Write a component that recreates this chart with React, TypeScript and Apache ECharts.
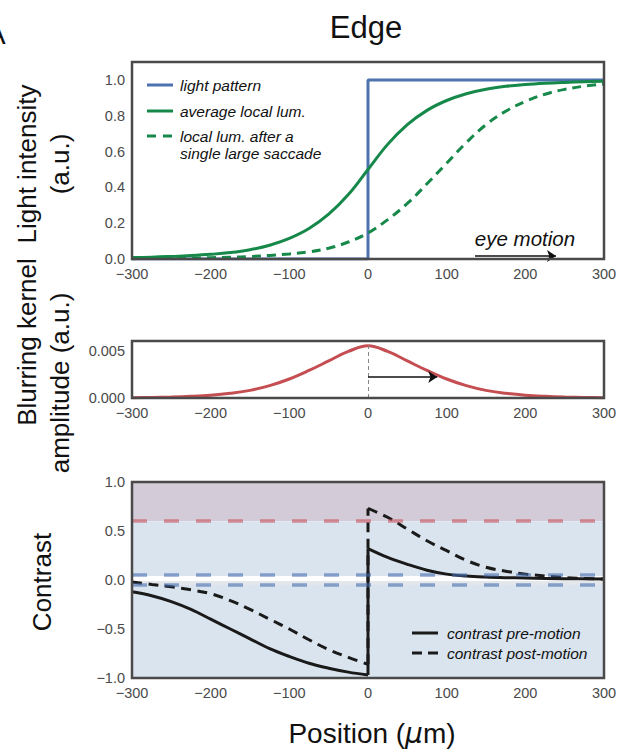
import { useEffect, useRef } from "react";
import * as echarts from "echarts";

// ---------- data ----------
const lumX = [-300, -275, -250, -225, -200, -175, -150, -125, -100, -75, -50, -25, 0, 25, 50, 75, 100, 125, 150, 175, 200, 225, 250, 275, 300];
const lightX = [-300, 0, 0, 300];
const lightPattern = [0, 0, 1, 1];
const avgLocalLum = [0.008, 0.01, 0.014, 0.019, 0.026, 0.036, 0.052, 0.077, 0.115, 0.17, 0.25, 0.36, 0.5, 0.64, 0.75, 0.83, 0.885, 0.923, 0.948, 0.964, 0.974, 0.981, 0.986, 0.99, 0.993];
const saccadeLum = [0.002, 0.003, 0.004, 0.005, 0.007, 0.01, 0.014, 0.02, 0.028, 0.04, 0.06, 0.095, 0.145, 0.22, 0.31, 0.42, 0.535, 0.65, 0.75, 0.825, 0.88, 0.92, 0.947, 0.965, 0.977];
const kernel = [0.00003, 0.00005, 0.0001, 0.00018, 0.0003, 0.0005, 0.0008, 0.0013, 0.002, 0.0029, 0.0039, 0.0049, 0.0055, 0.0049, 0.0039, 0.0029, 0.002, 0.0013, 0.0008, 0.0005, 0.0003, 0.00018, 0.0001, 0.00005, 0.00003];
// contrast curves: the jump at x = 0 sits between index JUMP and JUMP + 1
const contrastX = [-300, -275, -250, -225, -200, -175, -150, -125, -100, -75, -50, -25, 0, 0, 25, 50, 75, 100, 125, 150, 175, 200, 250, 300];
const contrastPre = [-0.12, -0.16, -0.22, -0.3, -0.4, -0.5, -0.6, -0.7, -0.78, -0.85, -0.9, -0.94, -0.97, 0.32, 0.23, 0.16, 0.1, 0.06, 0.04, 0.03, 0.024, 0.02, 0.013, 0.01];
const contrastPost = [-0.02, -0.045, -0.07, -0.1, -0.14, -0.21, -0.3, -0.4, -0.5, -0.61, -0.71, -0.79, -0.86, 0.73, 0.64, 0.52, 0.4, 0.3, 0.2, 0.13, 0.09, 0.06, 0.025, 0.01];
const JUMP = 12;
const xTicks = { min: -300, max: 300, interval: 100 };
const kernelPeak = 0.0055;
const kernelArrow = { from: 0, to: 88, y: 0.0022 };
const eyeArrow = { from: 136, to: 239, y: 0.017 };
const upperThreshold = 0.6;
const lowerThresholds = [0.05, -0.05];

const FONT = "Liberation Sans, Arial, Helvetica, sans-serif";
const GREEN = "#16894a";
const BLUE = "#4c72b0";
const RED = "#c44e52";
const BLACK = "#1a1a1a";

const pairs = (xs: number[], ys: number[]) => xs.map((x, i) => [x, ys[i]]);
const fmt = (v: number, d: number) => (v < -1e-12 ? "\u2212" : "") + Math.abs(v).toFixed(d);

const G = { left: 132, width: 472 };
const grids = [
  { ...G, top: 62, height: 197 },
  { ...G, top: 341, height: 57 },
  { ...G, top: 482, height: 196 },
].map((g) => ({ ...g, show: true, z: 10, backgroundColor: "transparent", borderColor: "#4a4a4a", borderWidth: 2.5 }));

const xAxisBase = (i: number) => ({
  type: "value",
  gridIndex: i,
  ...xTicks,
  axisLine: { show: false },
  axisTick: { show: false },
  splitLine: { show: false },
  axisLabel: { fontSize: 14.5, color: "#4a4a4a", margin: 7, fontFamily: FONT, formatter: (v: number) => fmt(v, 0) },
});

const yAxes = [
  { min: 0, max: 1.1, interval: 0.2, d: 1, hide: 1.1 },
  { min: 0, max: 0.006, interval: 0.005, d: 3, hide: 0.006 },
  { min: -1, max: 1, interval: 0.5, d: 1, hide: 99 },
].map((a, i) => ({
  type: "value",
  gridIndex: i,
  min: a.min,
  max: a.max,
  interval: a.interval,
  axisLine: { show: false },
  axisTick: { show: false },
  splitLine: { show: false },
  axisLabel: {
    fontSize: 14.5,
    color: "#4a4a4a",
    margin: 7,
    fontFamily: FONT,
    formatter: (v: number) => (Math.abs(v - a.hide) < 1e-9 ? "" : fmt(v, a.d)),
  },
}));

const txt = (text: string, x: number, y: number, size: number, extra: any = {}) => ({
  type: "text",
  x,
  y,
  z: 100,
  ...(extra.rotation ? { rotation: extra.rotation } : {}),
  style: {
    text,
    fontSize: size,
    fontFamily: FONT,
    fontStyle: extra.italic ? "italic" : "normal",
    fill: extra.fill || "#111",
    textAlign: extra.align || "center",
    textVerticalAlign: "middle",
  },
});

const seg = (x1: number, y1: number, x2: number, y2: number, stroke: string, dash?: number[]) => ({
  type: "line",
  z: 100,
  shape: { x1, y1, x2, y2 },
  style: { stroke, lineWidth: 3, lineDash: dash },
});

// contrast curve split into: left branch, vertical jump, right branch
const contrastPieces = (ys: number[], dash: any) => {
  const all = pairs(contrastX, ys);
  const parts = [all.slice(0, JUMP + 1), all.slice(JUMP, JUMP + 2), all.slice(JUMP + 1)];
  return parts.map((data, k) => ({
    type: "line",
    xAxisIndex: 2,
    yAxisIndex: 2,
    data,
    symbol: "none",
    smooth: k === 1 ? false : 0.35,
    lineStyle: { color: BLACK, width: 3, type: dash },
    z: 4,
  }));
};

const preSeries = contrastPieces(contrastPre, "solid");
(preSeries[0] as any).markArea = {
  silent: true,
  z: 1,
  data: [
    [{ yAxis: upperThreshold, itemStyle: { color: "#d3cbd8" } }, { yAxis: 1 }],
    [{ yAxis: -1, itemStyle: { color: "#d9e4ee" } }, { yAxis: upperThreshold }],
    [{ yAxis: -0.012, itemStyle: { color: "#ffffff" } }, { yAxis: 0.042 }],
    [{ yAxis: -0.048, itemStyle: { color: "#e4e6ea" } }, { yAxis: -0.012 }],
  ],
};
(preSeries[0] as any).markLine = {
  silent: true,
  symbol: "none",
  label: { show: false },
  data: [
    { yAxis: upperThreshold, lineStyle: { color: "rgba(200,80,90,0.6)", width: 3.5, type: [15, 17] } },
    ...lowerThresholds.map((t) => ({ yAxis: t, lineStyle: { color: "rgba(70,110,175,0.6)", width: 3.5, type: [15, 17] } })),
  ],
};
const postSeries = contrastPieces(contrastPost, [10, 6.5]);

const option: any = {
  animation: false,
  textStyle: { fontFamily: FONT },
  grid: grids,
  xAxis: [0, 1, 2].map(xAxisBase),
  yAxis: yAxes,
  series: [
    {
      type: "line",
      xAxisIndex: 0,
      yAxisIndex: 0,
      data: pairs(lightX, lightPattern),
      symbol: "none",
      lineStyle: { color: BLUE, width: 3 },
      z: 3,
    },
    {
      type: "line",
      xAxisIndex: 0,
      yAxisIndex: 0,
      data: pairs(lumX, avgLocalLum),
      symbol: "none",
      smooth: 0.4,
      lineStyle: { color: GREEN, width: 3 },
      z: 4,
    },
    {
      type: "line",
      xAxisIndex: 0,
      yAxisIndex: 0,
      data: pairs(lumX, saccadeLum),
      symbol: "none",
      smooth: 0.4,
      lineStyle: { color: GREEN, width: 3, type: [9, 6] },
      z: 4,
      markLine: {
        silent: true,
        symbol: ["none", "arrow"],
        symbolSize: 9,
        label: { show: false },
        lineStyle: { color: "#111", width: 1.5, type: "solid" },
        data: [[{ coord: [eyeArrow.from, eyeArrow.y] }, { coord: [eyeArrow.to, eyeArrow.y] }]],
      },
    },
    {
      type: "line",
      xAxisIndex: 1,
      yAxisIndex: 1,
      data: pairs(lumX, kernel),
      symbol: "none",
      smooth: 0.4,
      lineStyle: { color: RED, width: 3 },
      z: 4,
      markLine: {
        silent: true,
        label: { show: false },
        data: [
          [
            { coord: [0, 0], symbol: "none", lineStyle: { color: "#888", width: 1, type: [4, 3] } },
            { coord: [0, kernelPeak], symbol: "none" },
          ],
          [
            { coord: [kernelArrow.from, kernelArrow.y], symbol: "none", lineStyle: { color: "#111", width: 1.5, type: "solid" } },
            { coord: [kernelArrow.to, kernelArrow.y], symbol: "arrow", symbolSize: 9 },
          ],
        ],
      },
    },
    ...preSeries,
    ...postSeries,
  ],
  graphic: [
    txt("Edge", 366, 27, 31),
    txt("A", -4, 34, 29),
    txt("Light intensity", 27, 164, 26, { rotation: Math.PI / 2 }),
    txt("(a.u.)", 60, 164, 26, { rotation: Math.PI / 2 }),
    txt("Blurring kernel", 27, 342, 26, { rotation: Math.PI / 2 }),
    txt("amplitude (a.u.)", 60, 383, 26, { rotation: Math.PI / 2 }),
    txt("Contrast", 42, 582, 26, { rotation: Math.PI / 2 }),
    {
      type: "text",
      x: 372,
      y: 733,
      z: 100,
      style: {
        text: "{n|Position (}{m|\u03bc}{n|m)}",
        textAlign: "center",
        textVerticalAlign: "middle",
        rich: {
          n: { fontSize: 28, fontFamily: FONT, fill: "#111" },
          m: { fontSize: 28, fontFamily: "DejaVu Sans, sans-serif", fontStyle: "italic", fill: "#111" },
        },
      },
    },
    txt("eye motion", 525, 238, 20.5, { italic: true }),
    // top legend
    seg(147, 85, 173, 85, BLUE),
    txt("light pattern", 180, 85, 15.5, { italic: true, align: "left" }),
    seg(147, 111, 173, 111, GREEN),
    txt("average local lum.", 180, 111, 15.5, { italic: true, align: "left" }),
    seg(147, 136, 173, 136, GREEN, [9, 7]),
    txt("local lum. after a", 180, 136, 15.5, { italic: true, align: "left" }),
    txt("single large saccade", 180, 153, 15.5, { italic: true, align: "left" }),
    // bottom legend
    seg(412, 633, 438, 633, BLACK),
    txt("contrast pre-motion", 447, 633, 15.5, { italic: true, align: "left" }),
    seg(412, 653, 438, 653, BLACK, [10, 6]),
    txt("contrast post-motion", 447, 653, 15.5, { italic: true, align: "left" }),
  ],
};

export default function App() {
  const ref = useRef<HTMLDivElement>(null);
  useEffect(() => {
    const chart = echarts.init(ref.current!, null, { renderer: "svg", width: 621, height: 753 });
    chart.setOption(option);
    return () => chart.dispose();
  }, []);
  return <div ref={ref} style={{ position: "absolute", left: 0, top: 0, width: 621, height: 753, background: "#fff" }} />;
}
